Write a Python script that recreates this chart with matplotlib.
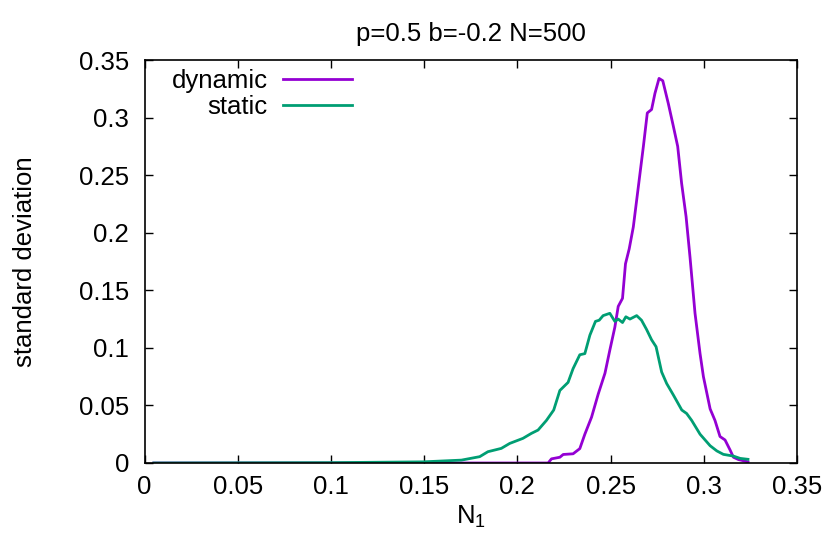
import matplotlib.pyplot as plt

plt.rcParams["font.family"] = ["Liberation Sans", "DejaVu Sans"]
plt.rcParams["mathtext.fontset"] = "custom"
plt.rcParams["mathtext.rm"] = "Liberation Sans"
plt.rcParams["mathtext.it"] = "Liberation Sans"

# dynamic curve
dyn_x = [0.005, 0.10, 0.2165, 0.2183, 0.2228, 0.2246, 0.2299, 0.2335, 0.2362, 0.2398,
         0.2434, 0.247, 0.2496, 0.2523, 0.2541, 0.2564, 0.258, 0.260, 0.2622,
         0.2649, 0.2676, 0.2697, 0.2720, 0.2738, 0.2760, 0.2780, 0.2810, 0.2836,
         0.2860, 0.2881, 0.2905, 0.2926, 0.2953, 0.2980, 0.2998, 0.3034, 0.3060,
         0.3087, 0.3114, 0.3141, 0.3159, 0.3186, 0.3237]
dyn_y = [0.0, 0.0, 0.0, 0.0036, 0.005, 0.0074, 0.008, 0.0125, 0.025, 0.0398,
         0.060, 0.078, 0.098, 0.118, 0.136, 0.143, 0.173, 0.186, 0.205,
         0.240, 0.275, 0.304, 0.307, 0.321, 0.334, 0.332, 0.312, 0.293,
         0.275, 0.243, 0.214, 0.179, 0.130, 0.095, 0.075, 0.047, 0.037,
         0.023, 0.020, 0.0113, 0.005, 0.003, 0.001]

# static curve
sta_x = [0.005, 0.10, 0.1495, 0.170, 0.1798, 0.1842, 0.1914, 0.1959, 0.2030, 0.2075,
         0.2111, 0.2156, 0.2195, 0.2228, 0.2272, 0.2299, 0.2335, 0.2362, 0.2389,
         0.2419, 0.2439, 0.2460, 0.2496, 0.2523, 0.2541, 0.2564, 0.2582, 0.2604,
         0.2640, 0.2666, 0.2693, 0.2720, 0.2744, 0.2774, 0.2801, 0.2837, 0.2882,
         0.2908, 0.2935, 0.2980, 0.3034, 0.3070, 0.3105, 0.3159, 0.3195, 0.3237]
sta_y = [0.0, 0.0003, 0.001, 0.0025, 0.0055, 0.0098, 0.0127, 0.017, 0.0214, 0.0257,
         0.0286, 0.037, 0.046, 0.063, 0.070, 0.082, 0.094, 0.095, 0.111,
         0.123, 0.124, 0.128, 0.130, 0.123, 0.125, 0.122, 0.127, 0.125,
         0.128, 0.124, 0.116, 0.107, 0.101, 0.079, 0.069, 0.059, 0.046,
         0.043, 0.037, 0.025, 0.015, 0.0105, 0.0075, 0.006, 0.004, 0.0032]

x_ticks = [0, 0.05, 0.1, 0.15, 0.2, 0.25, 0.3, 0.35]
x_tick_labels = ["0", "0.05", "0.1", "0.15", "0.2", "0.25", "0.3", "0.35"]
y_ticks = [0, 0.05, 0.1, 0.15, 0.2, 0.25, 0.3, 0.35]
y_tick_labels = ["0", "0.05", "0.1", "0.15", "0.2", "0.25", "0.3", "0.35"]

fs = 18.5
fig = plt.figure(figsize=(8.31, 5.43), dpi=100)
ax = fig.add_axes([144.5 / 831, 1 - 463 / 543, (797 - 144.5) / 831, (463 - 60) / 543])

ax.plot(dyn_x, dyn_y, color="#9400d3", lw=2, label="dynamic")
ax.plot(sta_x, sta_y, color="#009e73", lw=2, label="static")

ax.set_xlim(0, 0.35)
ax.set_ylim(0, 0.35)
ax.set_xticks(x_ticks)
ax.set_xticklabels(x_tick_labels)
ax.set_yticks(y_ticks)
ax.set_yticklabels(y_tick_labels)
ax.tick_params(direction="in", length=6, width=1, top=True, right=True,
               labelsize=fs)
ax.tick_params(axis="y", pad=11)
ax.tick_params(axis="x", pad=9)
for sp in ax.spines.values():
    sp.set_linewidth(1.2)

ax.set_xlabel("N$_1$", fontsize=fs, labelpad=3)
ax.set_ylabel("standard deviation", fontsize=fs, labelpad=30)
ax.set_title("p=0.5 b=-0.2 N=500", fontsize=fs, pad=14)

leg = ax.legend(loc="upper left", bbox_to_anchor=(0.016, 1.02), frameon=False,
                markerfirst=False, fontsize=fs, handlelength=2.7,
                handletextpad=0.6, labelspacing=0.1, borderaxespad=0.25)

fig.savefig("out.png", dpi=100)
